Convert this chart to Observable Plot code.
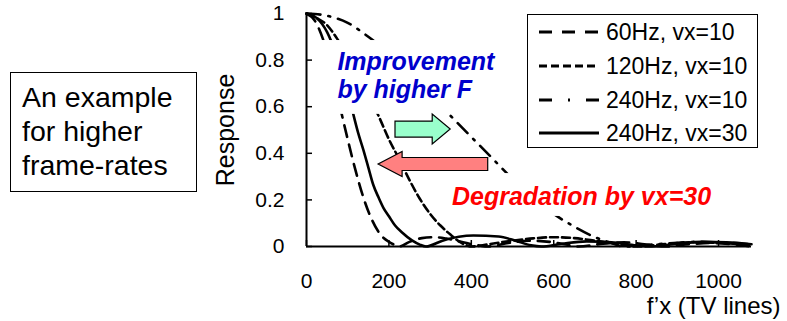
<!DOCTYPE html>
<html><head><meta charset="utf-8">
<script src="https://cdn.jsdelivr.net/npm/d3@7"></script>
<script src="https://cdn.jsdelivr.net/npm/@observablehq/plot@0.6"></script>
<style>
body{margin:0;background:#fff;}
#wrap{position:relative;width:787px;height:321px;font-family:"Liberation Sans",Arial,sans-serif;color:#000;}
#wrap svg.plot{position:absolute;left:0;top:0;}
#note{position:absolute;left:10px;top:72px;width:187px;height:120px;box-sizing:border-box;border:1.3px solid #000;background:#fff;padding:7px 0 0 11px;font-size:28.5px;line-height:34px;}
#legend{position:absolute;left:527px;top:14px;width:231px;height:134px;box-sizing:border-box;border:1.3px solid #000;background:#fff;}
.row{position:absolute;left:0;height:34px;display:flex;align-items:center;font-size:23px;white-space:nowrap;}
.row svg{display:block;}
.row span{margin-left:7px;}
</style>
</head><body>
<div id="wrap">
  <div id="note">An example<br>for higher<br>frame-rates</div>
  <div id="legend"></div>
</div>
<script>
// ---- data ----
const xTicks = [0, 200, 400, 600, 800, 1000];
const yTicks = [0, 0.2, 0.4, 0.6, 0.8, 1];

const seriesNames = ["60Hz, vx=10", "120Hz, vx=10", "240Hz, vx=10", "240Hz, vx=30"];

const f60 = [0, 20, 40, 60, 80, 100, 120, 140, 160, 180, 200, 215, 225, 250, 280, 310, 340, 380, 420, 440, 490, 540, 590, 640, 660, 720, 770, 820, 870, 930, 980, 1030, 1080];
const r60 = [1, 0.97, 0.89, 0.77, 0.61, 0.46, 0.32, 0.2, 0.11, 0.05, 0.02, 0.006, 0, 0.02, 0.036, 0.04, 0.034, 0.018, 0.004, 0, 0.015, 0.025, 0.02, 0.005, 0, 0.012, 0.018, 0.01, 0, 0.01, 0.015, 0.01, 0];

const f120 = [0, 25, 50, 75, 100, 125, 150, 175, 200, 225, 250, 275, 300, 325, 350, 370, 390, 400, 450, 500, 550, 600, 650, 700, 750, 800, 870, 940, 1010, 1080];
const r120 = [1, 0.98, 0.95, 0.89, 0.82, 0.74, 0.65, 0.56, 0.46, 0.375, 0.285, 0.205, 0.14, 0.09, 0.05, 0.022, 0.004, 0, 0.012, 0.025, 0.035, 0.04, 0.036, 0.025, 0.012, 0, 0.01, 0.018, 0.015, 0.006];

const f240 = [0, 50, 100, 150, 200, 250, 300, 350, 400, 450, 500, 550, 600, 650, 700, 740, 770, 850, 950, 1030, 1080];
const r240 = [1, 0.99, 0.96, 0.9, 0.83, 0.75, 0.65, 0.56, 0.47, 0.38, 0.29, 0.21, 0.14, 0.085, 0.04, 0.015, 0, 0.01, 0.02, 0.015, 0.01];

const f240v30 = [0, 25, 50, 75, 100, 114, 125, 138, 150, 162, 175, 187, 200, 215, 232, 256, 275, 290, 330, 370, 405, 466, 507, 545, 570, 620, 680, 740, 800, 830, 900, 960, 1020, 1080];
const r240v30 = [1, 0.98, 0.92, 0.81, 0.67, 0.565, 0.49, 0.415, 0.34, 0.265, 0.21, 0.165, 0.13, 0.09, 0.06, 0.026, 0.008, 0, 0.025, 0.042, 0.047, 0.043, 0.025, 0.005, 0, 0.012, 0.022, 0.018, 0.005, 0, 0.012, 0.02, 0.018, 0.01];

// annotations (data units)
const noteTexts = ["Improvement\nby higher F", "Degradation by vx=30"];
const noteF = [75, 353];
const noteR = [0.738, 0.215];
const arrowFrom = [216, 441];
const arrowTo = [350, 175];
const arrowR = [0.502, 0.352];
const maskF1 = [24, 342], maskF2 = [478, 1008], maskR1 = [0.567, 0.129], maskR2 = [0.884, 0.313];

// ---- styles ----
const dashChart = ["12,8", "8,4", "14,8,2,8", null];
const dashLegend = ["13,10", "8,4", "13,16,2,16", null];
const noteColors = ["#0000CC", "#FF0000"];
const arrowStyle = [
  {fill: "#99FFCC", body: 8, half: 15, head: 18},
  {fill: "#FF8080", body: 6.5, half: 12.5, head: 24}
];

const zip = (fs, rs) => fs.map((f, i) => ({f, r: rs[i]}));
const seriesData = [zip(f60, r60), zip(f120, r120), zip(f240, r240), zip(f240v30, r240v30)];
const notes = noteTexts.map((t, i) => ({t, f: noteF[i], r: noteR[i], c: noteColors[i]}));
const masks = maskF1.map((_, i) => ({f1: maskF1[i], f2: maskF2[i], r1: maskR1[i], r2: maskR2[i]}));

function arrowsMark(index, scales) {
  const g = d3.create("svg:g");
  arrowFrom.forEach((from, i) => {
    const s = arrowStyle[i];
    const x0 = scales.x(from), x1 = scales.x(arrowTo[i]), y = scales.y(arrowR[i]);
    const dir = Math.sign(x1 - x0);
    const hx = x1 - dir * s.head;
    const pts = [[x0, y - s.body], [hx, y - s.body], [hx, y - s.half], [x1, y], [hx, y + s.half], [hx, y + s.body], [x0, y + s.body]];
    g.append("path")
      .attr("d", "M" + pts.map(p => p.join(",")).join("L") + "Z")
      .attr("fill", s.fill).attr("stroke", "#000").attr("stroke-width", 1.2);
  });
  return g.node();
}

const chart = Plot.plot({
  width: 787, height: 321,
  marginLeft: 306, marginRight: 36, marginTop: 13, marginBottom: 75,
  style: {fontFamily: "'Liberation Sans', Arial, sans-serif", fontSize: "21px", color: "#000", background: "transparent", overflow: "visible"},
  x: {domain: [0, 1080]},
  y: {domain: [0, 1]},
  marks: [
    ...seriesData.map((d, i) => Plot.line(d, {x: "f", y: "r", stroke: "#000", strokeWidth: 2.6, strokeDasharray: dashChart[i], curve: "monotone-x"})),
    Plot.rect(masks, {x1: "f1", x2: "f2", y1: "r1", y2: "r2", fill: "white"}),
    Plot.ruleX([0], {strokeWidth: 2}),
    Plot.ruleY([0], {strokeWidth: 2}),
    Plot.axisY({ticks: yTicks, tickSize: -6, tickPadding: 28, tickFormat: d => String(d), label: null, strokeWidth: 1.5}),
    Plot.axisX({ticks: xTicks, tickSize: -6, tickPadding: 33, tickFormat: d => String(d), label: null, strokeWidth: 1.5}),
    Plot.text(["Response"], {text: d => d, frameAnchor: "left", rotate: -90, dx: -81, textAnchor: "middle", lineAnchor: "middle", fontSize: 25}),
    Plot.text(["f\u2019x (TV lines)"], {text: d => d, frameAnchor: "bottom-right", dx: 29, dy: 60, textAnchor: "end", lineAnchor: "middle", fontSize: 24}),
    Plot.text(notes, {x: "f", y: "r", text: "t", fill: "c", fontSize: 25, fontWeight: "bold", fontStyle: "italic", textAnchor: "start", lineAnchor: "middle", lineHeight: 1.12}),
    arrowsMark
  ]
});
document.getElementById("wrap").prepend(chart);

// legend
const legend = document.getElementById("legend");
const rowCenters = [17, 51, 85, 118];
seriesNames.forEach((name, i) => {
  const row = document.createElement("div");
  row.className = "row";
  row.style.top = (rowCenters[i] - 17) + "px";
  const svg = d3.create("svg").attr("width", 71).attr("height", 34);
  svg.append("line").attr("x1", 11).attr("x2", 71).attr("y1", 17).attr("y2", 17)
    .attr("stroke", "#000").attr("stroke-width", 3).attr("stroke-dasharray", dashLegend[i]);
  row.appendChild(svg.node());
  const span = document.createElement("span");
  span.textContent = name;
  row.appendChild(span);
  legend.appendChild(row);
});
</script>
</body></html>
